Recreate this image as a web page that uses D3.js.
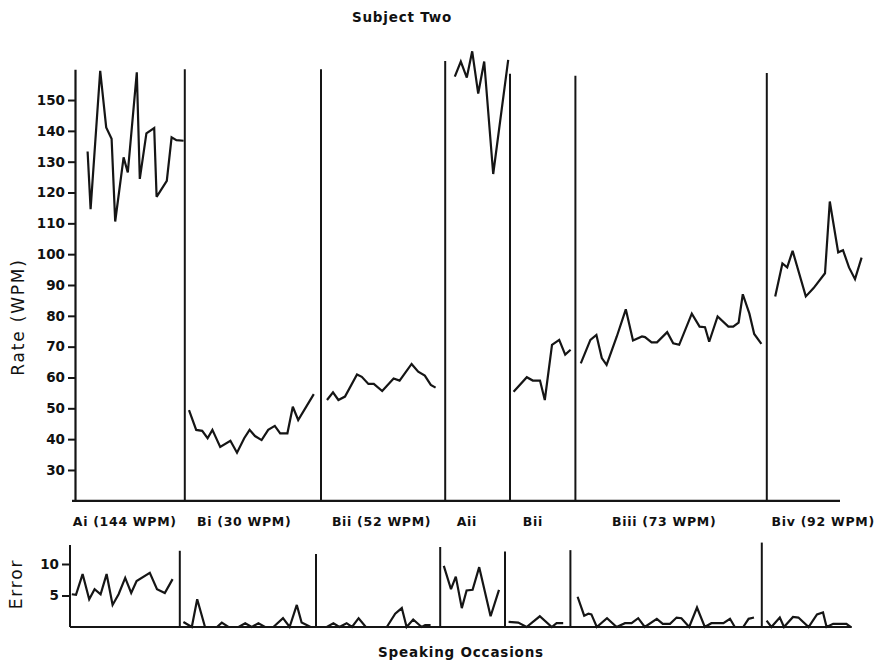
<!DOCTYPE html>
<html>
<head>
<meta charset="utf-8">
<script src="https://cdn.jsdelivr.net/npm/d3@7/dist/d3.min.js"></script>
<style>
  html, body { margin: 0; padding: 0; background: #fff; }
  svg text { font-family: "DejaVu Sans", "Liberation Sans", sans-serif; fill: #111; }
</style>
</head>
<body>
<svg id="chart" width="875" height="664"></svg>
<script>
// ---------------- DATA ----------------
const title = "Subject Two";
const yLabelRate = "Rate (WPM)";
const yLabelError = "Error";
const xLabel = "Speaking Occasions";

const phaseLabels = ["Ai (144 WPM)", "Bi (30 WPM)", "Bii (52 WPM)", "Aii", "Bii", "Biii (73 WPM)", "Biv (92 WPM)"];
const phaseLabelOcc = [8.3, 28.2, 51.1, 65.3, 76.3, 98.2, 124.7];
// phase change boundaries (speaking occasion)
const phaseBounds = [18.3, 41.0, 61.7, 72.5, 83.4, 115.3];
const boundTopRate = [160, 160, 162.7, 158.5, 157.9, 158.8];
const boundTopError = [12.1, 11.6, 12.7, 12.0, 12.2, 13.4];

const rateTicks = [30, 40, 50, 60, 70, 80, 90, 100, 110, 120, 130, 140, 150];
const errorTicks = [5, 10];

// Rate (WPM) per phase: occasion numbers and values
const rateOcc = [
  [2.1, 2.6, 4.2, 5.2, 6.1, 6.7, 8.1, 8.8, 10.3, 10.8, 11.9, 13.2, 13.6, 15.3, 16.1, 16.9, 18.1],
  [19.0, 20.2, 21.2, 22.1, 22.9, 24.2, 25.9, 27.0, 28.2, 29.1, 30.0, 31.1, 32.2, 33.3, 34.2, 35.4, 36.3, 37.2, 39.8],
  [42.0, 43.0, 43.9, 45.0, 47.0, 47.8, 48.9, 49.8, 51.2, 53.1, 54.1, 56.1, 57.2, 58.3, 59.3, 60.1],
  [63.3, 64.3, 65.3, 66.2, 67.2, 68.2, 69.7, 72.2],
  [73.1, 75.3, 76.3, 77.5, 78.3, 79.5, 80.7, 81.7, 82.6],
  [84.3, 85.9, 86.9, 87.8, 88.6, 90.3, 91.8, 93.0, 94.5, 95.0, 96.1, 97.0, 98.7, 99.7, 100.7, 102.8, 104.1, 105.0, 105.7, 107.1, 108.9, 109.7, 110.6, 111.3, 112.4, 113.2, 114.4],
  [116.7, 117.9, 118.7, 119.6, 121.8, 123.1, 125.0, 125.8, 127.2, 128.0, 129.0, 130.0, 131.1]
];
const rateWpm = [
  [133.3, 114.6, 159.5, 141.1, 137.4, 110.6, 131.4, 126.5, 159, 124.4, 139.2, 140.9, 118.6, 123.8, 137.9, 137, 136.8],
  [49.4, 43, 42.7, 40.3, 43, 37.5, 39.5, 35.6, 40.3, 43, 41, 39.7, 43, 44.3, 41.9, 41.9, 50.5, 46.2, 54.6],
  [52.7, 55.2, 52.7, 53.8, 61, 60.2, 57.9, 57.9, 55.6, 59.7, 59, 64.4, 61.9, 60.6, 57.6, 56.7],
  [157.6, 162.5, 157.3, 165.8, 152.1, 162.5, 126, 163],
  [55.4, 60.1, 59, 59, 52.7, 70.6, 72.2, 67.4, 69],
  [64.6, 72.2, 73.8, 66.3, 64.1, 73.3, 82.1, 72, 73.3, 73.1, 71.4, 71.4, 74.7, 71.1, 70.6, 80.7, 76.5, 76.3, 71.6, 79.8, 76.5, 76.5, 77.8, 87, 80.7, 74.1, 70.9],
  [86.3, 97, 95.7, 101.1, 86.3, 89, 93.8, 117.1, 100.6, 101.3, 95.7, 91.9, 98.9]
];

// Errors per phase
const errOcc = [
  [0.3, 1.0, 2.1, 3.2, 4.1, 5.1, 6.1, 7.1, 8.1, 9.2, 10.2, 11.1, 13.3, 14.5, 15.8, 17.1],
  [18.9, 20.3, 21.2, 22.5, 24.5, 25.3, 26.4, 28.1, 29.2, 30.3, 31.4, 32.5, 33.9, 35.5, 36.6, 37.8, 38.6, 40.1],
  [41.7, 42.8, 43.9, 44.9, 46.1, 47.0, 48.1, 49.3, 52.8, 54.2, 55.3, 56.1, 57.2, 58.6, 59.2, 60.1],
  [62.3, 63.5, 64.3, 65.3, 66.1, 67.1, 68.2, 70.1, 71.5],
  [73.1, 74.7, 76.1, 78.3, 80.3, 81.1, 82.2],
  [84.6, 85.7, 86.4, 86.9, 87.8, 89.5, 91.1, 92.5, 93.6, 94.7, 95.8, 97.8, 98.8, 100.0, 101.1, 101.9, 103.2, 104.5, 105.8, 106.9, 108.9, 110.0, 110.8, 112.2, 113.1, 114.0],
  [116.1, 116.9, 118.3, 119.0, 120.5, 121.4, 123.1, 124.5, 125.5, 126.1, 127.2, 129.4, 130.1]
];
const errCount = [
  [5.2, 5.1, 8.4, 4.4, 6.0, 5.2, 8.4, 3.5, 5.2, 7.8, 5.4, 7.3, 8.6, 6.0, 5.4, 7.6],
  [0.8, 0, 4.4, 0, 0, 0.7, 0, 0, 0.6, 0, 0.6, 0, 0, 1.4, 0, 3.5, 0.7, 0],
  [0, 0, 0.6, 0, 0.6, 0, 1.4, 0, 0, 2.1, 3.0, 0, 1.2, 0, 0.3, 0.3],
  [9.7, 6.0, 8.0, 3.0, 5.8, 5.9, 9.5, 1.7, 5.9],
  [0.8, 0.7, 0, 1.7, 0, 0.6, 0.6],
  [4.8, 1.8, 2.1, 2.0, 0, 1.4, 0, 0.6, 0.6, 1.4, 0, 1.3, 0.5, 0.5, 1.5, 1.4, 0, 3.1, 0, 0.6, 0.6, 1.3, 0, 0, 1.3, 1.5],
  [1.0, 0, 1.5, 0, 1.6, 1.5, 0, 2.0, 2.3, 0, 0.5, 0.5, 0]
];

// ---------------- CHART ----------------
const svg = d3.select("#chart");
const ink = "#151515";

const xRate = d3.scaleLinear().domain([0, 130]).range([75, 855]);
const yRate = d3.scaleLinear().domain([20, 160]).range([500.8, 69.2]);
const xErr = d3.scaleLinear().domain([0, 130]).range([70, 850]);
const yErr = d3.scaleLinear().domain([0, 10]).range([627, 564]);

// title
svg.append("text").attr("x", 402).attr("y", 22).attr("text-anchor", "middle")
  .attr("font-size", 13.5).attr("font-weight", "bold").attr("letter-spacing", 0.8)
  .attr("fill", ink).text(title);

// ---- Rate panel ----
const yAxis = d3.axisLeft(yRate).tickValues(rateTicks).tickSize(7).tickSizeOuter(0).tickPadding(3);
const gy = svg.append("g").attr("transform", `translate(${xRate(0)},0)`).call(yAxis);
gy.select(".domain").attr("stroke", ink).attr("stroke-width", 2.2);
gy.selectAll(".tick line").attr("stroke", ink).attr("stroke-width", 2);
gy.selectAll(".tick text").attr("font-size", 13.5).attr("font-weight", "bold")
  .attr("font-family", "DejaVu Sans, sans-serif").attr("fill", ink);

// bottom axis line
svg.append("line").attr("x1", xRate(-0.5)).attr("x2", xRate(127.5))
  .attr("y1", yRate(20)).attr("y2", yRate(20)).attr("stroke", ink).attr("stroke-width", 2.2);

// phase dividers
svg.append("g").selectAll("line").data(phaseBounds).join("line")
  .attr("x1", d => xRate(d)).attr("x2", d => xRate(d))
  .attr("y1", (d, i) => yRate(boundTopRate[i])).attr("y2", yRate(20))
  .attr("stroke", ink).attr("stroke-width", 2);

const rateLine = d3.line().x(d => xRate(d[0])).y(d => yRate(d[1]));
svg.append("g").selectAll("path").data(rateOcc.map((o, i) => o.map((v, j) => [v, rateWpm[i][j]])))
  .join("path").attr("d", rateLine).attr("fill", "none").attr("stroke", ink)
  .attr("stroke-width", 2.2).attr("stroke-linejoin", "miter").attr("stroke-miterlimit", 3);

// phase labels
svg.append("g").selectAll("text").data(phaseLabels).join("text")
  .attr("x", (d, i) => xRate(phaseLabelOcc[i])).attr("y", 526)
  .attr("text-anchor", "middle").attr("font-size", 12.5).attr("font-weight", "bold")
  .attr("letter-spacing", 0.7).attr("fill", ink).text(d => d);

// y label
svg.append("text").attr("transform", "translate(24,317) rotate(-90)").attr("text-anchor", "middle")
  .attr("font-size", 17).attr("letter-spacing", 1.8).attr("fill", ink).text(yLabelRate);

// ---- Error panel ----
const yAxisE = d3.axisLeft(yErr).tickValues(errorTicks).tickSize(8).tickSizeOuter(0).tickPadding(3);
const gye = svg.append("g").attr("transform", `translate(${xErr(0)},0)`).call(yAxisE);
gye.select(".domain").remove();
svg.append("line").attr("x1", xErr(0)).attr("x2", xErr(0)).attr("y1", yErr(13)).attr("y2", yErr(0))
  .attr("stroke", ink).attr("stroke-width", 2);
gye.selectAll(".tick line").attr("stroke", ink).attr("stroke-width", 2);
gye.selectAll(".tick text").attr("font-size", 13.5).attr("font-weight", "bold")
  .attr("font-family", "DejaVu Sans, sans-serif").attr("fill", ink);

svg.append("line").attr("x1", xErr(0)).attr("x2", xErr(130.3))
  .attr("y1", yErr(0)).attr("y2", yErr(0)).attr("stroke", ink).attr("stroke-width", 2.2);

svg.append("g").selectAll("line").data(phaseBounds).join("line")
  .attr("x1", d => xErr(d)).attr("x2", d => xErr(d))
  .attr("y1", (d, i) => yErr(boundTopError[i])).attr("y2", yErr(0))
  .attr("stroke", ink).attr("stroke-width", 2);

const errLine = d3.line().x(d => xErr(d[0])).y(d => yErr(d[1]));
svg.append("g").selectAll("path").data(errOcc.map((o, i) => o.map((v, j) => [v, errCount[i][j]])))
  .join("path").attr("d", errLine).attr("fill", "none").attr("stroke", ink)
  .attr("stroke-width", 2.2).attr("stroke-linejoin", "miter").attr("stroke-miterlimit", 3);

svg.append("text").attr("transform", "translate(22,584) rotate(-90)").attr("text-anchor", "middle")
  .attr("font-size", 17).attr("letter-spacing", 1.8).attr("fill", ink).text(yLabelError);

svg.append("text").attr("x", 461).attr("y", 657).attr("text-anchor", "middle")
  .attr("font-size", 13.5).attr("font-weight", "bold").attr("letter-spacing", 0.8)
  .attr("fill", ink).text(xLabel);
</script>
</body>
</html>
